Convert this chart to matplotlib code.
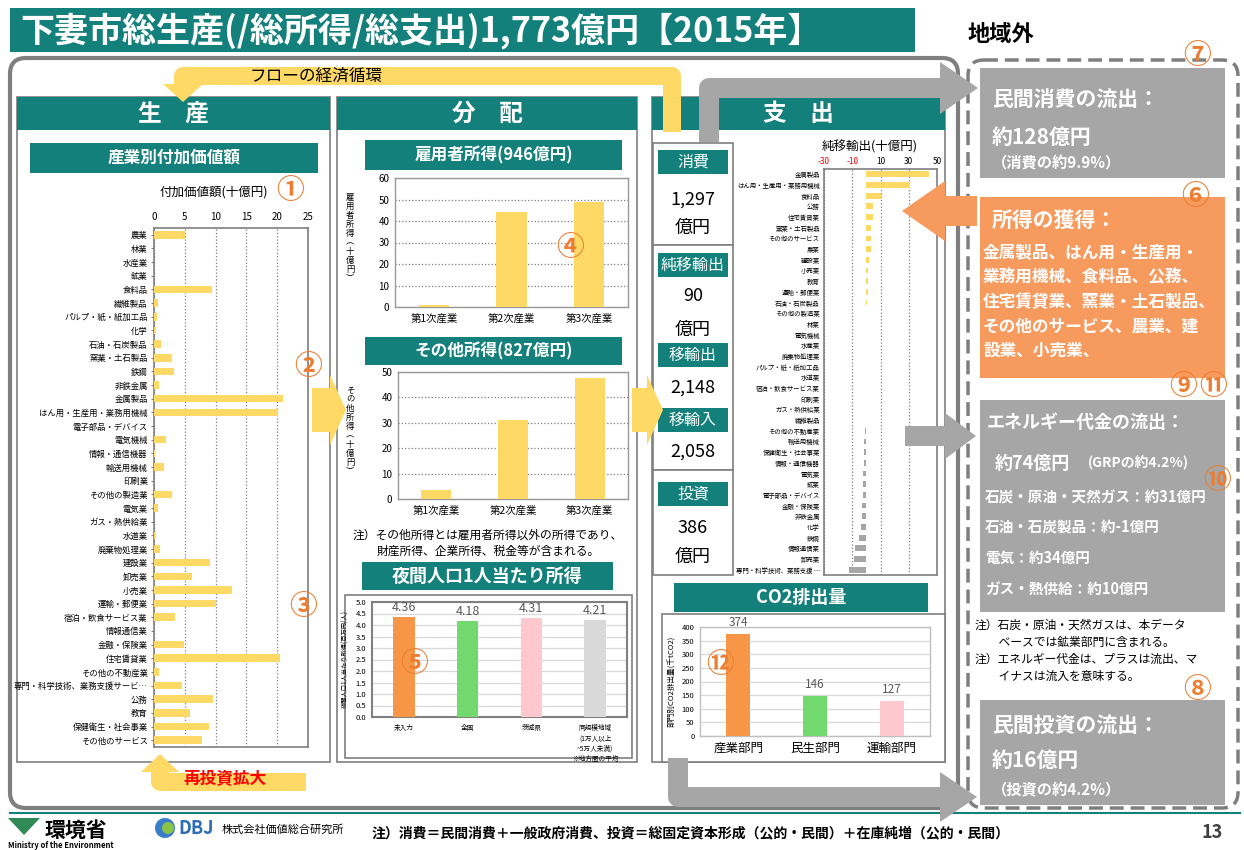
import matplotlib
matplotlib.use('Agg')
import matplotlib.pyplot as plt
from matplotlib.patches import FancyBboxPatch, Polygon, Circle
import numpy as np

plt.rcParams['font.family'] = ['Noto Sans CJK JP', 'DejaVu Sans']

# ---- data ----
industries = ['農業', '林業', '水産業', '鉱業', '食料品', '繊維製品', 'パルプ・紙・紙加工品', '化学',
              '石油・石炭製品', '窯業・土石製品', '鉄鋼', '非鉄金属', '金属製品', 'はん用・生産用・業務用機械',
              '電子部品・デバイス', '電気機械', '情報・通信機器', '輸送用機械', '印刷業', 'その他の製造業',
              '電気業', 'ガス・熱供給業', '水道業', '廃棄物処理業', '建設業', '卸売業', '小売業', '運輸・郵便業',
              '宿泊・飲食サービス業', '情報通信業', '金融・保険業', '住宅賃貸業', 'その他の不動産業',
              '専門・科学技術、業務支援サービ…', '公務', '教育', '保健衛生・社会事業', 'その他のサービス']
value_added = [5.1, 0.0, 0.0, 0.0, 9.4, 0.6, 0.5, 0.4, 1.2, 2.9, 3.2, 0.8, 20.9, 20.1,
               0.0, 1.9, 0.2, 1.6, 0.0, 2.9, 0.6, 0.0, 0.3, 1.0, 9.1, 6.1, 12.6, 10.0,
               3.4, 0.0, 4.9, 20.5, 0.8, 4.5, 9.5, 5.8, 8.9, 7.8]

netexp_labels = ['金属製品', 'はん用・生産用・業務用機械', '食料品', '公務', '住宅賃貸業', '窯業・土石製品',
                 'その他のサービス', '農業', '建設業', '小売業', '教育', '運輸・郵便業', '石油・石炭製品',
                 'その他の製造業', '林業', '電気機械', '水産業', '廃棄物処理業', 'パルプ・紙・紙加工品', '水道業',
                 '宿泊・飲食サービス業', '印刷業', 'ガス・熱供給業', '繊維製品', 'その他の不動産業', '輸送用機械',
                 '保健衛生・社会事業', '情報・通信機器', '電気業', '鉱業', '電子部品・デバイス', '金融・保険業',
                 '非鉄金属', '化学', '鉄鋼', '情報通信業', '卸売業', '専門・科学技術、業務支援 …']
netexp_values = [44.0, 31.0, 10.0, 5.0, 4.5, 3.5, 3.0, 3.0, 2.0, 1.5, 1.2, 1.0, 0.5,
                 -0.2, -0.3, -0.3, -0.3, -0.3, -0.3, -0.3, -0.6, -0.6, -0.6, -0.6, -0.8,
                 -2.0, -2.0, -2.0, -2.2, -2.2, -2.2, -3.0, -3.0, -4.0, -5.0, -8.0, -8.5, -12.0]

income_cats = ['第1次産業', '第2次産業', '第3次産業']
employee_income = [1.0, 44.0, 49.0]
other_income = [3.5, 31.0, 47.5]

pop_labels = ['未入力', '全国', '茨城県', '同規模地域\n(1万人以上\n~5万人未満)\n※地方圏の平均']
pop_income = [4.36, 4.18, 4.31, 4.21]

co2_labels = ['産業部門', '民生部門', '運輸部門']
co2_values = [374, 146, 127]

spend_consumption = '1,297'
spend_netexport = '90'
spend_export = '2,148'
spend_import = '2,058'
spend_investment = '386'

# ---- colours ----
TEAL = '#13807b'
YEL = '#ffd966'
GRAY = '#a6a6a6'
FRAME = '#7f7f7f'
ORANGE = '#f79a5e'
CIRC = '#ed7d31'
BAR_COLS = ['#f79646', '#72d96e', '#ffc7ce', '#d9d9d9']

W, H = 1244, 850
fig = plt.figure(figsize=(12.44, 8.5), dpi=100)
fig.patch.set_facecolor('white')

bg = fig.add_axes([0, 0, 1, 1])
bg.set_xlim(0, W)
bg.set_ylim(H, 0)
bg.axis('off')
bg.set_zorder(0)

top = fig.add_axes([0, 0, 1, 1])
top.set_xlim(0, W)
top.set_ylim(H, 0)
top.axis('off')
top.patch.set_alpha(0)
top.set_zorder(10)


def px_axes(x0, y0, x1, y1):
    ax = fig.add_axes([x0 / W, 1 - y1 / H, (x1 - x0) / W, (y1 - y0) / H])
    ax.set_zorder(5)
    return ax


def box(ax, x0, y0, x1, y1, fc, ec='none', lw=0, r=0, ls='-', z=1):
    style = 'round,pad=0,rounding_size=%s' % r if r else 'square,pad=0'
    ax.add_patch(FancyBboxPatch((x0, y0), x1 - x0, y1 - y0, boxstyle=style,
                                fc=fc, ec=ec, lw=lw, ls=ls, zorder=z))


def txt(ax, x, y, s, size, color='black', weight='normal', ha='left', va='center', z=20, **kw):
    ax.text(x, y, s, fontsize=size, color=color, fontweight=weight, ha=ha, va=va, zorder=z, **kw)


def band(ax, xs, ys, color, width_px, z=3):
    ax.plot(xs, ys, color=color, lw=width_px * 0.72, solid_joinstyle='round',
            solid_capstyle='butt', zorder=z)


def head(ax, pts, color, z=3):
    ax.add_patch(Polygon(pts, closed=True, fc=color, ec='none', zorder=z))


# ---- title ----
box(bg, 10, 8, 915, 52, TEAL)
txt(bg, 20, 31, '下妻市総生産(/総所得/総支出)1,773億円【2015年】', 24.5, 'white', 'bold')
txt(bg, 968, 34, '地域外', 16, 'black', 'bold')

# ---- frames ----
box(bg, 10, 58, 958, 808, 'white', FRAME, 3, r=16)
box(bg, 968, 60, 1238, 808, 'none', FRAME, 2.5, r=16, ls=(0, (4, 2)))
bg.plot([10, 1240], [813, 813], color=TEAL, lw=1.5, zorder=2)

# ---- column panels ----
for (x0, x1, y1, name) in [(17, 330, 762, '生　産'), (337, 637, 762, '分　配'), (652, 945, 762, '支　出')]:
    box(bg, x0, 97, x1, y1, 'white', FRAME, 1.2, z=2)
    box(bg, x0, 97, x1, 130, TEAL, z=3)
    txt(bg, (x0 + x1) / 2, 114, name, 17, 'white', 'bold', ha='center', z=4)

# sub headers
for (x0, y0, x1, y1, s, fs) in [(30, 143, 318, 173, '産業別付加価値額', 12),
                                (365, 140, 622, 170, '雇用者所得(946億円)', 12),
                                (365, 337, 622, 365, 'その他所得(827億円)', 12),
                                (362, 562, 613, 590, '夜間人口1人当たり所得', 13),
                                (674, 583, 928, 612, 'CO2排出量', 13)]:
    box(bg, x0, y0, x1, y1, TEAL, z=4)
    txt(bg, (x0 + x1) / 2, (y0 + y1) / 2, s, fs, 'white', 'bold', ha='center', z=5)

# inner chart boxes (night population / CO2)
box(bg, 345, 595, 632, 758, 'white', FRAME, 1.2, z=3)
box(bg, 662, 614, 945, 762, 'white', FRAME, 1.2, z=3)

# ---- spending middle column ----
box(bg, 653, 143, 733, 245, 'white', FRAME, 1.2, z=4)
box(bg, 653, 245, 733, 470, 'white', FRAME, 1.2, z=4)
box(bg, 653, 470, 733, 575, 'white', FRAME, 1.2, z=4)
for (y0, s) in [(150, '消費'), (253, '純移輸出'), (343, '移輸出'), (408, '移輸入'), (482, '投資')]:
    box(bg, 658, y0, 728, y0 + 24, TEAL, z=5)
    txt(bg, 693, y0 + 12, s, 11.5, 'white', ha='center', z=6)
for (y, s) in [(200, spend_consumption), (228, '億円'), (296, spend_netexport), (330, '億円'),
               (388, spend_export), (452, spend_import), (528, spend_investment), (557, '億円')]:
    txt(bg, 693, y, s, 13, 'black', ha='center', z=6)

# ---- arrows ----
# yellow flow loop
band(bg, [672, 672, 183, 183], [132, 76, 76, 86], YEL, 18)
head(bg, [(163, 84), (203, 84), (183, 102)], YEL)
txt(bg, 316, 76, 'フローの経済循環', 12, 'black', ha='center', z=6)
# gray top arrow (consumption outflow)
band(bg, [709, 709, 942], [142, 88, 88], GRAY, 20, z=6)
head(bg, [(940, 62), (940, 114), (978, 88)], GRAY, z=6)
# yellow chevrons between panels
head(top, [(312, 388), (330, 388), (330, 375), (346, 410), (330, 445), (330, 432), (312, 432)], YEL)
head(top, [(632, 388), (647, 388), (647, 375), (663, 410), (647, 445), (647, 432), (632, 432)], YEL)
# reinvestment arrow
band(bg, [306, 160, 160], [782, 782, 770], YEL, 18)
head(bg, [(141, 772), (179, 772), (160, 754)], YEL)
txt(bg, 184, 779, '再投資拡大', 12, '#ff0000', 'bold', z=6)
# gray bottom arrow (investment outflow)
band(bg, [678, 678, 942], [758, 797, 797], GRAY, 20, z=6)
head(bg, [(940, 772), (940, 822), (977, 797)], GRAY, z=6)
# orange inflow arrow
head(top, [(977, 196), (945, 196), (945, 181), (902, 211), (945, 241), (945, 226), (977, 226)], ORANGE)
# gray energy outflow arrow
head(top, [(905, 426), (945, 426), (945, 413), (976, 436), (945, 459), (945, 446), (905, 446)], GRAY)

# ---- production chart ----
ax = px_axes(154, 228, 308, 747)
y = np.arange(len(industries))
ax.barh(y, value_added, height=0.55, color=YEL, zorder=3)
ax.set_ylim(len(industries) - 0.5, -0.5)
ax.set_xlim(0, 25)
ax.xaxis.tick_top()
ax.set_xticks(range(0, 26, 5))
ax.set_yticks(y)
ax.set_yticklabels(industries, fontsize=6)
ax.tick_params(axis='x', labelsize=7, length=0, pad=4)
ax.tick_params(axis='y', length=2.5, pad=2, color=FRAME)
ax.grid(axis='x', ls=':', color='#7f7f7f', lw=0.9)
for s in ax.spines.values():
    s.set_color(FRAME)
    s.set_linewidth(1.2)
txt(bg, 214, 192, '付加価値額(十億円)', 9, ha='center')

# ---- net export chart ----
ax = px_axes(824, 169, 937, 575)
y = np.arange(len(netexp_labels))
cols = [YEL if v > 0 else GRAY for v in netexp_values]
ax.barh(y, netexp_values, height=0.55, color=cols, zorder=3)
ax.set_ylim(len(netexp_labels) - 0.5, -0.5)
ax.set_xlim(-30, 50)
ax.xaxis.tick_top()
ax.set_xticks([-30, -10, 10, 30, 50])
ax.set_xticklabels(['-30', '-10', '10', '30', '50'], fontsize=6)
for t, v in zip(ax.get_xticklabels(), [-30, -10, 10, 30, 50]):
    t.set_color('#ff0000' if v < 0 else 'black')
ax.set_yticks(y)
ax.set_yticklabels(netexp_labels, fontsize=4.6)
ax.tick_params(axis='x', length=0, pad=2)
ax.tick_params(axis='y', length=0, pad=3)
ax.grid(axis='x', ls=':', color='#7f7f7f', lw=0.9)
for s in ax.spines.values():
    s.set_color(FRAME)
    s.set_linewidth(1.2)
txt(bg, 870, 147, '純移輸出(十億円)', 9, ha='center', z=6)


def income_chart(rect, vals, ymax, ylab):
    ax = px_axes(*rect)
    ax.bar(range(3), vals, width=0.39, color=YEL, zorder=3)
    ax.set_xlim(-0.5, 2.5)
    ax.set_ylim(0, ymax)
    ax.set_yticks(range(0, ymax + 1, 10))
    ax.set_xticks(range(3))
    ax.set_xticklabels(income_cats, fontsize=7.5)
    ax.tick_params(axis='y', labelsize=7, length=0, pad=4)
    ax.tick_params(axis='x', length=0, pad=5)
    ax.grid(axis='y', ls=':', color='#7f7f7f', lw=0.9)
    for s in ax.spines.values():
        s.set_color('#999999')
        s.set_linewidth(1)
    cy = (rect[1] + rect[3]) / 2
    txt(bg, 350, cy - 5, '\n'.join(ylab), 6, ha='center', va='center', z=6, linespacing=1.0)


income_chart((395, 178, 628, 307), employee_income, 60, '雇用者所得︵十億円︶')
income_chart((398, 372, 628, 499), other_income, 50, 'その他所得︵十億円︶')
txt(bg, 488, 535, '注）その他所得とは雇用者所得以外の所得であり、', 8.5, ha='center', z=6)
txt(bg, 488, 551, '財産所得、企業所得、税金等が含まれる。', 8.5, ha='center', z=6)

# ---- night population income ----
ax = px_axes(372, 602, 627, 717)
ax.bar(range(4), pop_income, width=0.34, color=BAR_COLS, zorder=3)
for i, v in enumerate(pop_income):
    ax.text(i, v + 0.12, '%.2f' % v, ha='center', va='bottom', fontsize=9, color='#595959', zorder=4)
ax.set_xlim(-0.5, 3.5)
ax.set_ylim(0, 5)
ax.set_yticks(np.arange(0, 5.01, 0.5))
ax.set_yticklabels(['%.1f' % v for v in np.arange(0, 5.01, 0.5)])
ax.set_xticks(range(4))
ax.set_xticklabels(pop_labels, fontsize=4.8, va='top', linespacing=1.4)
ax.tick_params(axis='y', labelsize=5.5, length=0, pad=4)
ax.tick_params(axis='x', length=0, pad=5)
ax.grid(axis='y', color='#d9d9d9', lw=0.9)
ax.set_axisbelow(True)
for s in ax.spines.values():
    s.set_color('#808080')
    s.set_linewidth(1.5)
ax.set_ylabel('夜間人口1人当たり所得(百万円/人)', fontsize=4.5, labelpad=5)

# ---- CO2 ----
ax = px_axes(700, 627, 930, 736)
ax.bar(range(3), co2_values, width=0.31, color=BAR_COLS[:3], zorder=3)
for i, v in enumerate(co2_values):
    ax.text(i, v + 18, str(v), ha='center', va='bottom', fontsize=8.5, color='#595959', zorder=4)
ax.set_xlim(-0.5, 2.5)
ax.set_ylim(0, 400)
ax.set_yticks(range(0, 401, 50))
ax.set_xticks(range(3))
ax.set_xticklabels(co2_labels, fontsize=9)
ax.tick_params(axis='y', labelsize=5.5, length=0, pad=4)
ax.tick_params(axis='x', length=0, pad=4)
ax.grid(axis='y', color='#d9d9d9', lw=0.9)
ax.set_axisbelow(True)
for s in ax.spines.values():
    s.set_color('#bfbfbf')
    s.set_linewidth(1)
ax.set_ylabel('部門別CO2排出量(千tCO2)', fontsize=5.5, labelpad=4)

# ---- right side boxes ----
box(bg, 980, 68, 1225, 178, GRAY, z=3)
txt(bg, 992, 100, '民間消費の流出：', 15, 'white', 'bold')
txt(bg, 992, 137, '約128億円', 15, 'white', 'bold')
txt(bg, 992, 162, '（消費の約9.9%）', 11, 'white', 'bold')

box(bg, 980, 197, 1225, 378, ORANGE, z=3)
txt(bg, 992, 220, '所得の獲得：', 15, 'white', 'bold')
for i, s in enumerate(['金属製品、はん用・生産用・', '業務用機械、食料品、公務、', '住宅賃貸業、窯業・土石製品、',
                       'その他のサービス、農業、建', '設業、小売業、']):
    txt(bg, 983, 253 + i * 24.5, s, 12, 'white', 'bold')

box(bg, 980, 400, 1225, 612, GRAY, z=3)
txt(bg, 987, 422, 'エネルギー代金の流出：', 13, 'white', 'bold')
txt(bg, 995, 463, '約74億円', 13, 'white', 'bold')
txt(bg, 1088, 463, '(GRPの約4.2%)', 10, 'white', 'bold')
for i, s in enumerate(['石炭・原油・天然ガス：約31億円', '石油・石炭製品：約-1億円', '電気：約34億円', 'ガス・熱供給：約10億円']):
    txt(bg, 985, 497 + i * 30.5, s, 10.5, 'white', 'bold')
for i, s in enumerate(['注）石炭・原油・天然ガスは、本データ', '　　ベースでは鉱業部門に含まれる。',
                       '注）エネルギー代金は、プラスは流出、マ', '　　イナスは流入を意味する。']):
    txt(bg, 975, 625 + i * 17, s, 8.5)

box(bg, 980, 700, 1225, 805, GRAY, z=3)
txt(bg, 992, 725, '民間投資の流出：', 15, 'white', 'bold')
txt(bg, 992, 760, '約16億円', 15, 'white', 'bold')
txt(bg, 992, 790, '（投資の約4.2%）', 11, 'white', 'bold')

# ---- circled numbers ----
for (x, y, s) in [(290, 191, '①'), (308, 367, '②'), (303, 607, '③'), (570, 248, '④'), (414, 664, '⑤'),
                  (1195, 197, '⑥'), (1197, 56, '⑦'), (1197, 690, '⑧'), (1183, 387, '⑨'), (1217, 481, '⑩'),
                  (1213, 387, '⑪'), (720, 665, '⑫')]:
    txt(top, x, y, s, 20, CIRC, 'bold', ha='center', z=30)

# ---- footer ----
head(bg, [(8, 818), (40, 818), (24, 835)], '#2e8b57')
txt(bg, 45, 830, '環境省', 15, 'black', 'bold')
txt(bg, 8, 846, 'Ministry of the Environment', 5.5, 'black', 'bold')
bg.add_patch(Circle((165, 828), 10, fc='#3a7dc9', ec='none', zorder=3))
bg.add_patch(Circle((168, 828), 6, fc='#8bc34a', ec='none', zorder=4))
txt(bg, 178, 828, 'DBJ', 13, '#2f6db5', 'bold')
txt(bg, 222, 830, '株式会社価値総合研究所', 8, 'black')
txt(bg, 372, 833, '注）消費＝民間消費＋一般政府消費、投資＝総固定資本形成（公的・民間）＋在庫純増（公的・民間）', 10, 'black', 'bold')
txt(bg, 1212, 833, '13', 13, '#404040', 'bold', ha='center')

fig.savefig('out.png', dpi=100)
